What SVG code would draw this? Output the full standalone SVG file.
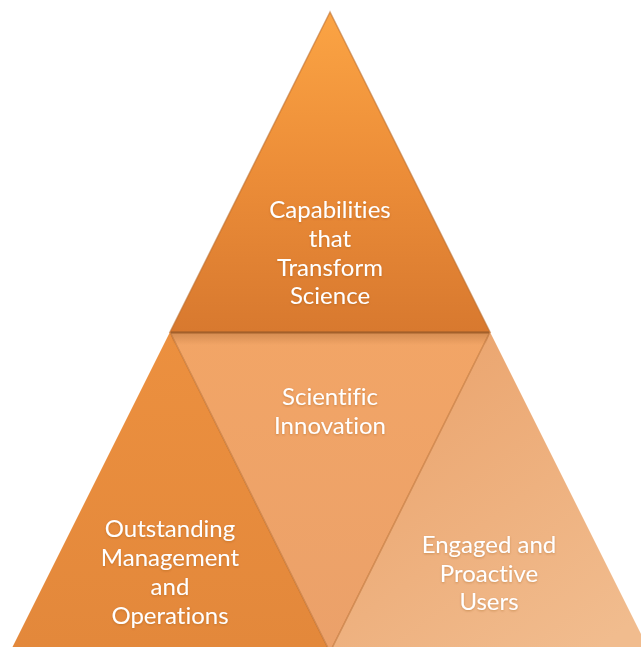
<svg xmlns="http://www.w3.org/2000/svg" width="641" height="647" viewBox="0 0 641 647">
  <defs>
    <linearGradient id="gTop" x1="0" y1="12" x2="0" y2="332" gradientUnits="userSpaceOnUse">
      <stop offset="0" stop-color="#FBA444"/>
      <stop offset="0.5" stop-color="#EC8D38"/>
      <stop offset="1" stop-color="#D8792F"/>
    </linearGradient>
    <linearGradient id="gLeft" x1="0" y1="332" x2="0" y2="647" gradientUnits="userSpaceOnUse">
      <stop offset="0" stop-color="#EC903F"/>
      <stop offset="1" stop-color="#E3883B"/>
    </linearGradient>
    <linearGradient id="gMid" x1="0" y1="332" x2="0" y2="647" gradientUnits="userSpaceOnUse">
      <stop offset="0" stop-color="#F2A566"/>
      <stop offset="1" stop-color="#EBA16A"/>
    </linearGradient>
    <linearGradient id="gRight" x1="400" y1="380" x2="600" y2="647" gradientUnits="userSpaceOnUse">
      <stop offset="0" stop-color="#EBA670"/>
      <stop offset="1" stop-color="#F1BC8E"/>
    </linearGradient>
    <linearGradient id="gShade" x1="0" y1="332" x2="0" y2="345" gradientUnits="userSpaceOnUse">
      <stop offset="0" stop-color="#9A5A28" stop-opacity="0.35"/>
      <stop offset="1" stop-color="#9A5A28" stop-opacity="0"/>
    </linearGradient>
    <filter id="glow" x="-10%" y="-20%" width="120%" height="140%">
      <feGaussianBlur in="SourceAlpha" stdDeviation="1.2"/>
      <feOffset dx="0" dy="0.5" result="b"/>
      <feFlood flood-color="#8A4A10" flood-opacity="0.35"/>
      <feComposite in2="b" operator="in"/>
      <feMerge><feMergeNode/><feMergeNode in="SourceGraphic"/></feMerge>
    </filter>
  </defs>
  <style>
    .edge { fill: none; stroke: #B8692A; stroke-opacity: 0.55; stroke-width: 1.5; stroke-linejoin: miter; }
    .lbl { font-family: Lato, "Open Sans", sans-serif; font-size: 24px; fill: #FFFFFF; text-anchor: middle; font-variant-ligatures: none; filter: url(#glow); }
  </style>
  <rect width="641" height="647" fill="#FFFFFF"/>

  <g id="node-left">
    <polygon points="170,332 10,652 330,652" fill="url(#gLeft)"/>
    <text class="lbl" x="170" y="537">Outstanding</text>
    <text class="lbl" x="170" y="566">Management</text>
    <text class="lbl" x="170" y="595">and</text>
    <text class="lbl" x="170" y="624">Operations</text>
  </g>

  <g id="node-right">
    <polygon points="490,332 330,652 650,652" fill="url(#gRight)"/>
    <text class="lbl" x="489" y="553">Engaged and</text>
    <text class="lbl" x="489" y="581.5">Proactive</text>
    <text class="lbl" x="489" y="610">Users</text>
  </g>

  <g id="node-middle">
    <polygon points="170,332 490,332 330,652" fill="url(#gMid)"/>
    <polygon points="170,332 490,332 486,345 174,345" fill="url(#gShade)"/>
    <text class="lbl" x="330" y="405">Scientific</text>
    <text class="lbl" x="330" y="434">Innovation</text>
  </g>

  <g id="node-top">
    <polygon points="330,12 170,332 490,332" fill="url(#gTop)"/>
    <text class="lbl" x="330" y="218">Capabilities</text>
    <text class="lbl" x="330" y="247">that</text>
    <text class="lbl" x="330" y="275.5">Transform</text>
    <text class="lbl" x="330" y="304">Science</text>
  </g>

  <g id="connectors">
    <polyline class="edge" points="170,332 330,652 490,332"/>
    <polygon class="edge" points="330,12 170,332 490,332" stroke-opacity="0.4"/>
    <line x1="171" y1="332.5" x2="489" y2="332.5" stroke="#A3602B" stroke-width="2.2"/>
  </g>
</svg>
